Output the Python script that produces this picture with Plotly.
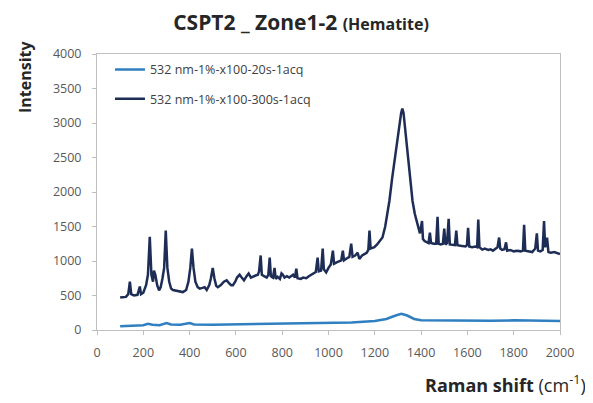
import plotly.graph_objects as go

# 532 nm-1%-x100-300s-1acq
shift_300 = [100, 110, 125, 135, 142, 148, 160, 175, 185, 190, 200, 212, 220, 228, 235, 242, 246, 252, 260, 268,
             275, 283, 290, 297, 304, 312, 320, 328, 340, 355, 371, 385, 395, 403, 410, 417, 425, 435, 444, 455,
             465, 474, 485, 492, 500, 507, 515, 522, 535, 548, 560, 570, 580, 587, 597, 605, 616, 625, 635, 646,
             655, 665, 675, 685, 695, 700, 707, 712, 722, 733, 740, 746, 751, 760, 767, 772, 780, 790, 797, 803,
             810, 820, 830, 840, 847, 855, 861, 866, 880, 890, 904, 915, 925, 935, 945, 953, 958, 968, 975, 980,
             990, 1000, 1010, 1019, 1024, 1035, 1045, 1055, 1062, 1067, 1080, 1090, 1098, 1104, 1115, 1126, 1133, 1145, 1155, 1165,
             1172, 1177, 1182, 1190, 1198, 1210, 1220, 1233, 1245, 1255, 1263, 1275, 1285, 1293, 1300, 1308, 1314, 1319, 1324, 1330,
             1336, 1341, 1350, 1363, 1373, 1384, 1395, 1404, 1408, 1415, 1425, 1432, 1438, 1443, 1455, 1465, 1471, 1476, 1485, 1494,
             1500, 1505, 1512, 1519, 1524, 1535, 1546, 1552, 1557, 1570, 1580, 1592, 1598, 1603, 1608, 1620, 1635, 1642, 1647, 1652,
             1664, 1675, 1690, 1700, 1710, 1720, 1730, 1737, 1742, 1750, 1760, 1767, 1772, 1785, 1800, 1815, 1830, 1840, 1845, 1850,
             1865, 1880, 1893, 1900, 1905, 1915, 1925, 1931, 1936, 1944, 1950, 1960, 1975, 1990, 2000]
intensity_300 = [470, 475, 480, 520, 700, 520, 500, 510, 630, 520, 540, 650, 800, 1350, 800, 700, 860, 800, 650, 575,
                 620, 750, 900, 1440, 900, 700, 600, 580, 570, 560, 550, 580, 700, 900, 1180, 900, 700, 620, 600, 610,
                 620, 580, 650, 750, 900, 750, 640, 620, 650, 700, 720, 680, 650, 650, 700, 760, 800, 760, 720, 780,
                 820, 760, 780, 790, 800, 850, 1080, 800, 780, 760, 800, 1050, 780, 760, 900, 740, 770, 740, 820, 800,
                 760, 780, 760, 780, 800, 760, 890, 750, 740, 760, 750, 780, 800, 820, 840, 1050, 850, 860, 1180, 880,
                 835, 900, 950, 1150, 960, 980, 1000, 1010, 1150, 1010, 1040, 1060, 1250, 1060, 1080, 1120, 1030, 1080, 1100, 1120,
                 1160, 1440, 1180, 1190, 1200, 1240, 1280, 1340, 1500, 1680, 1870, 2200, 2450, 2590, 2800, 3000, 3150, 3210, 3150, 2950,
                 2750, 2590, 2250, 1870, 1680, 1540, 1400, 1580, 1320, 1290, 1270, 1260, 1410, 1260, 1250, 1250, 1640, 1250, 1240, 1250,
                 1470, 1240, 1260, 1610, 1240, 1230, 1230, 1440, 1230, 1220, 1220, 1210, 1230, 1480, 1210, 1200, 1210, 1200, 1600, 1200,
                 1165, 1180, 1160, 1170, 1150, 1170, 1200, 1340, 1180, 1160, 1170, 1270, 1150, 1160, 1140, 1150, 1140, 1150, 1525, 1150,
                 1140, 1130, 1180, 1400, 1150, 1140, 1160, 1580, 1200, 1340, 1130, 1120, 1130, 1110, 1100]

# 532 nm-1%-x100-20s-1acq
shift_20 = [100, 150, 200, 220, 240, 270, 300, 320, 360, 400, 420, 500, 600, 700, 800, 900, 1000, 1100, 1200, 1250,
            1290, 1315, 1340, 1370, 1400, 1500, 1600, 1700, 1800, 1900, 2000]
intensity_20 = [55, 60, 70, 90, 75, 70, 100, 80, 75, 100, 80, 75, 80, 85, 85, 95, 100, 110, 130, 160,
                210, 235, 210, 160, 140, 135, 140, 135, 140, 135, 130]

names = ["532 nm-1%-x100-20s-1acq", "532 nm-1%-x100-300s-1acq"]
x_ticks = list(range(0, 2001, 200))
y_ticks = list(range(0, 4001, 500))

W, H = 593, 403
L, R, T, B = 89, 41, 46, 81
PW, PH = W - L - R, H - T - B

fig = go.Figure()
fig.add_trace(go.Scatter(x=shift_20, y=intensity_20, mode="lines", name=names[0], legendgroup="a",
                         line=dict(color="#2f7fc1", width=2.5)))
fig.add_trace(go.Scatter(x=shift_300, y=intensity_300, mode="lines", name=names[1], legendgroup="b",
                         line=dict(color="#1d2d55", width=2.5)))

tickfont = dict(family="Open Sans, sans-serif", size=12.5, color="#595959")
axis_common = dict(showline=True, linecolor="#bfbfbf", linewidth=1, mirror=True, showgrid=False,
                   zeroline=False, ticks="outside", ticklen=4, tickcolor="#bfbfbf", tickfont=tickfont,
                   automargin=False)

fig.update_layout(
    width=W, height=H,
    margin=dict(l=L, r=R, t=T, b=B),
    paper_bgcolor="white", plot_bgcolor="white",
    title=dict(text="<b>CSPT2 _ Zone1-2 <span style='font-size:16px'>(Hematite)</span></b>",
               x=293 / W, xref="container", xanchor="center",
               y=1 - 15 / H, yref="container", yanchor="middle",
               font=dict(family="Open Sans, sans-serif", size=21, color="#262626")),
    xaxis=dict(range=[0, 2000], tickvals=x_ticks, ticklabelstandoff=7, **axis_common),
    yaxis=dict(range=[0, 4000], tickvals=y_ticks, ticklabelstandoff=8, **axis_common),
    legend=dict(x=0.028, y=0.997, xanchor="left", yanchor="top", bgcolor="rgba(0,0,0,0)",
                tracegroupgap=10, itemwidth=30,
                font=dict(family="Open Sans, sans-serif", size=12.5, color="#404040")),
    showlegend=True,
)

fig.add_annotation(text="<b>Intensity</b>", textangle=-90, xref="paper", yref="paper",
                   x=(17 - L) / PW, y=(H - B - 69) / PH, showarrow=False,
                   xanchor="center", yanchor="middle",
                   font=dict(family="Open Sans, sans-serif", size=16, color="#262626"))
fig.add_annotation(text="<b>Raman shift</b> (cm<sup>-1</sup>)", xref="paper", yref="paper",
                   x=(497 - L) / PW, y=(H - B - 376) / PH, showarrow=False,
                   xanchor="center", yanchor="middle",
                   font=dict(family="Open Sans, sans-serif", size=18, color="#262626"))

fig.write_html("out.html")
